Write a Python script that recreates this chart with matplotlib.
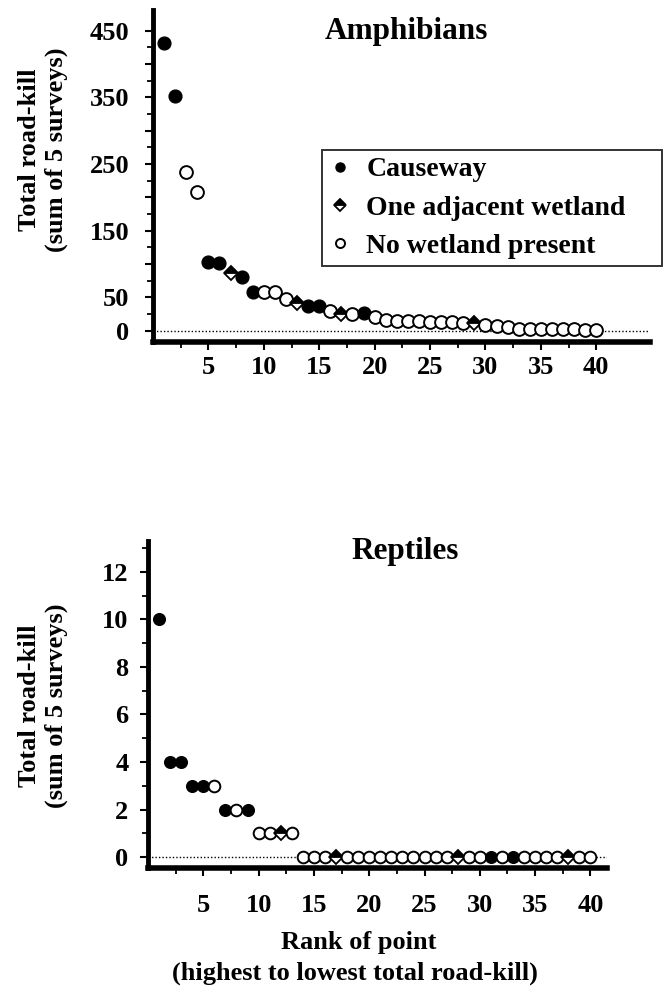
import matplotlib
matplotlib.use("Agg")
import matplotlib.pyplot as plt
from matplotlib.lines import Line2D
import numpy as np

plt.rcParams['font.family'] = ['Liberation Serif', 'DejaVu Serif']
plt.rcParams['font.weight'] = 'bold'

# ---------------- data ----------------
amph_rank = list(range(1, 41))
amph_values = [431, 352, 238, 208, 103, 101, 86, 80, 58, 58,
               58, 48, 41, 37, 37, 29, 25, 25, 26, 20,
               16, 15, 15, 14, 13, 13, 13, 12, 12, 8,
               7, 6, 2, 2, 2, 2, 2, 2, 1, 1]
amph_type = ['C', 'C', 'N', 'N', 'C', 'C', 'D', 'C', 'C', 'N',
             'N', 'N', 'D', 'C', 'C', 'N', 'D', 'N', 'C', 'N',
             'N', 'N', 'N', 'N', 'N', 'N', 'N', 'N', 'D', 'N',
             'N', 'N', 'N', 'N', 'N', 'N', 'N', 'N', 'N', 'N']

rept_rank = list(range(1, 41))
rept_values = [10, 4, 4, 3, 3, 3, 2, 2, 2, 1,
               1, 1, 1, 0, 0, 0, 0, 0, 0, 0,
               0, 0, 0, 0, 0, 0, 0, 0, 0, 0,
               0, 0, 0, 0, 0, 0, 0, 0, 0, 0]
rept_type = ['C', 'C', 'C', 'C', 'C', 'N', 'C', 'N', 'C', 'N',
             'N', 'D', 'N', 'N', 'N', 'N', 'D', 'N', 'N', 'N',
             'N', 'N', 'N', 'N', 'N', 'N', 'N', 'D', 'N', 'N',
             'C', 'N', 'C', 'N', 'N', 'N', 'N', 'D', 'N', 'N']

legend_labels = ['Causeway', 'One adjacent wetland', 'No wetland present']
amph_yticks = [0, 50, 100, 150, 200, 250, 300, 350, 400, 450]
amph_yticklabels = ['0', '50', '', '150', '', '250', '', '350', '', '450']
rept_yticks = [0, 2, 4, 6, 8, 10, 12]
xticks = [5, 10, 15, 20, 25, 30, 35, 40]

# ---------------- styles ----------------
def style_for(t, s):
    if t == 'C':
        return dict(marker='o', markersize=s, markerfacecolor='black',
                    markeredgecolor='black', markeredgewidth=1.0)
    if t == 'N':
        return dict(marker='o', markersize=s, markerfacecolor='white',
                    markeredgecolor='black', markeredgewidth=1.4)
    return dict(marker='D', markersize=s * 0.8, fillstyle='top',
                markerfacecolor='black', markerfacecoloralt='white',
                markeredgecolor='black', markeredgewidth=1.3)

fig = plt.figure(figsize=(6.65, 9.88), dpi=100)

def setup_axes(ax, xmax, ymin, ymax, yticks, yticklabels, yminor, xpad, ypad):
    ax.set_xlim(0, xmax)
    ax.set_ylim(ymin, ymax)
    for s in ['top', 'right']:
        ax.spines[s].set_visible(False)
    ax.spines['left'].set_linewidth(3.5)
    ax.spines['bottom'].set_linewidth(4.0)
    ax.set_xticks(xticks)
    ax.set_xticks([2.5 + 5 * i for i in range(8)], minor=True)
    ax.set_yticks(yticks)
    ax.set_yticklabels(yticklabels)
    ax.set_yticks(yminor, minor=True)
    ax.tick_params(axis='both', which='major', direction='out', length=6,
                   width=1.5, labelsize=19)
    ax.tick_params(axis='both', which='minor', direction='out', length=4,
                   width=1.3)
    ax.tick_params(axis='y', which='major', pad=ypad)
    ax.tick_params(axis='x', which='major', pad=xpad)
    for lab in ax.get_xticklabels() + ax.get_yticklabels():
        lab.set_fontweight('bold')
    ax.axhline(0, color='black', linestyle=(0, (1, 1.5)), linewidth=1.0,
               zorder=1)

def draw_points(ax, ranks, values, types, s):
    for r, v, t in zip(ranks, values, types):
        ax.plot([r], [v], linestyle='none', zorder=3, clip_on=False,
                **style_for(t, s))

# Amphibians
ax1 = fig.add_axes([153 / 665, 1 - 342 / 988, (650 - 153) / 665, (342 - 10) / 988])
setup_axes(ax1, 44.85, -17, 481, amph_yticks, amph_yticklabels,
           [25 + 50 * i for i in range(9)], xpad=4, ypad=11)
draw_points(ax1, amph_rank, amph_values, amph_type, 9.2)
fig.text(406 / 665, 1 - 31 / 988, 'Amphibians', ha='center', va='center',
         fontsize=22.5, fontweight='bold')

handles = [Line2D([], [], linestyle='none', **style_for('C', 6.5)),
           Line2D([], [], linestyle='none', **style_for('D', 7.5)),
           Line2D([], [], linestyle='none', **style_for('N', 6.5))]
leg = fig.legend(handles, legend_labels, loc='upper left',
                 bbox_to_anchor=(322 / 665, 1 - 262 / 988, 340 / 665, 112 / 988),
                 mode='expand',
                 prop=dict(family='Liberation Serif', weight='bold', size=20),
                 frameon=True, fancybox=False, shadow=False,
                 handlelength=0.8, handletextpad=0.55, labelspacing=0.46,
                 borderpad=0.25, borderaxespad=0.0)
leg.get_frame().set_edgecolor('black')
leg.get_frame().set_linewidth(1.4)

fig.text(43 / 665, 1 - 150 / 988, 'Total road-kill\n(sum of 5 surveys)',
         rotation=90, ha='center', va='center', multialignment='center',
         fontsize=19, fontweight='bold', linespacing=1.15)

# Reptiles
ax2 = fig.add_axes([148 / 665, 1 - 868 / 988, (607 - 148) / 665, (868 - 541) / 988])
setup_axes(ax2, 41.5, -0.46, 13.3, rept_yticks, [str(v) for v in rept_yticks],
           [1, 3, 5, 7, 9, 11, 13], xpad=13, ypad=8)
draw_points(ax2, rept_rank, rept_values, rept_type, 8.4)
fig.text(405 / 665, 1 - 551 / 988, 'Reptiles', ha='center', va='center',
         fontsize=22.5, fontweight='bold')
fig.text(43 / 665, 1 - 706 / 988, 'Total road-kill\n(sum of 5 surveys)',
         rotation=90, ha='center', va='center', multialignment='center',
         fontsize=19, fontweight='bold', linespacing=1.15)
fig.text(359 / 665, 1 - 942 / 988, 'Rank of point', ha='center', va='center',
         fontsize=19, fontweight='bold')
fig.text(355 / 665, 1 - 973 / 988, '(highest to lowest total road-kill)',
         ha='center', va='center', fontsize=19, fontweight='bold')

fig.savefig('out.png', dpi=100)
